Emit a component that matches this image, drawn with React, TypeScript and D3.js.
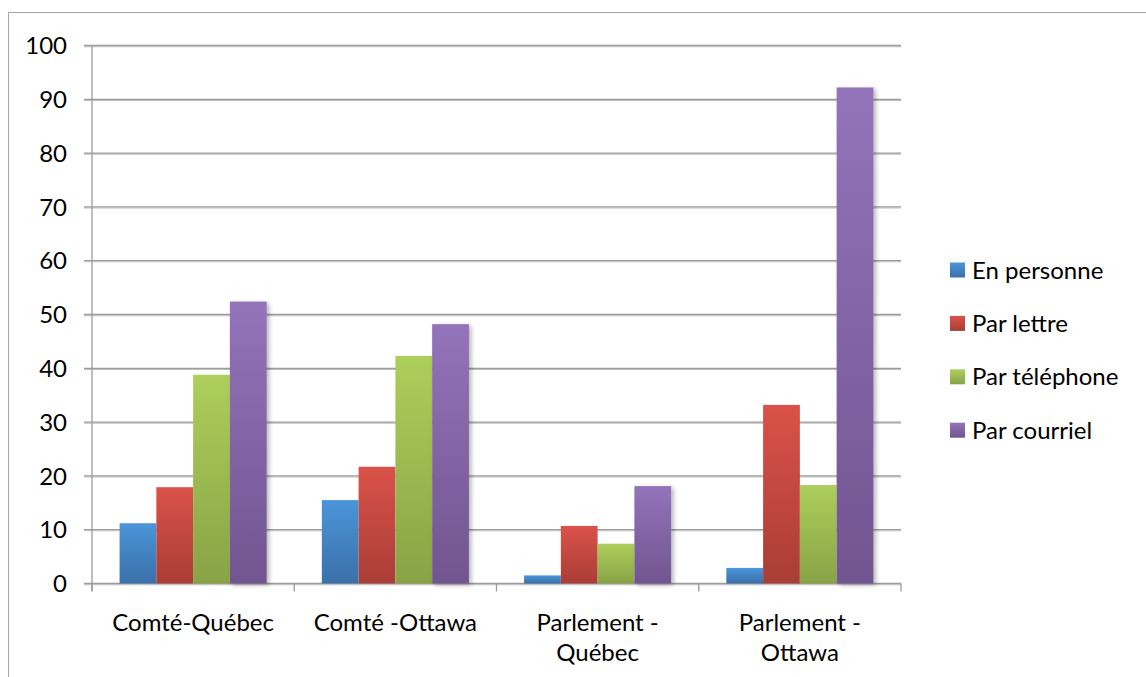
import React from "react";
import * as d3 from "d3";

const categories: string[][] = [
  ["Comté-Québec"],
  ["Comté -Ottawa"],
  ["Parlement -", "Québec"],
  ["Parlement -", "Ottawa"],
];
const seriesNames = ["En personne", "Par lettre", "Par téléphone", "Par courriel"];
const enPersonne = [11.2, 15.5, 1.5, 2.9];
const parLettre = [17.9, 21.7, 10.7, 33.2];
const parTelephone = [38.8, 42.3, 7.4, 18.3];
const parCourriel = [52.4, 48.2, 18.1, 92.2];
const yTicks = [0, 10, 20, 30, 40, 50, 60, 70, 80, 90, 100];

const seriesValues = [enPersonne, parLettre, parTelephone, parCourriel];
const colorsTop = ["#4b95d9", "#da5249", "#adcf5b", "#9373ba"];
const colorsBottom = ["#3a70a9", "#a93d36", "#88a345", "#715590"];

const W = 1146;
const H = 677;
const plotLeft = 92;
const plotRight = 901;
const plotTop = 45.5;
const plotBottom = 583.5;
const FONT = "Lato, 'Open Sans', sans-serif";
const FS = 24;

export default function App() {
  const y = d3.scaleLinear().domain([0, 100]).range([plotBottom, plotTop]);
  const x0 = d3
    .scaleBand<number>()
    .domain(categories.map((_, i) => i))
    .range([plotLeft, plotRight])
    .paddingInner(0)
    .paddingOuter(0);
  const groupW = x0.bandwidth();
  const barW = groupW / (4 + 1.5);
  const x1 = d3
    .scaleBand<number>()
    .domain(seriesNames.map((_, i) => i))
    .range([barW * 0.75, groupW - barW * 0.75]);

  const boundaries = d3.range(categories.length + 1).map((i) => plotLeft + i * groupW);

  return (
    <div style={{ position: "absolute", left: 0, top: 0 }}>
      <svg width={W} height={H} style={{ display: "block", background: "#fff" }}>
        <defs>
          {seriesNames.map((_, i) => (
            <linearGradient key={i} id={`g${i}`} x1="0" y1="0" x2="0" y2="1">
              <stop offset="0%" stopColor={colorsTop[i]} />
              <stop offset="100%" stopColor={colorsBottom[i]} />
            </linearGradient>
          ))}
          <filter id="shadow" x="-20%" y="-5%" width="150%" height="115%">
            <feDropShadow dx="2.5" dy="1.5" stdDeviation="2" floodColor="#000" floodOpacity="0.28" />
          </filter>
          <filter id="lshadow" x="-20%" y="-50%" width="150%" height="200%">
            <feDropShadow dx="0" dy="1" stdDeviation="0.6" floodColor="#000" floodOpacity="0.25" />
          </filter>
        </defs>

        {/* outer frame */}
        <path d={`M8.5,${H + 5} L8.5,12.5 L${W + 5},12.5`} fill="none" stroke="#a5a5a5" strokeWidth={1} />

        {/* gridlines */}
        <g filter="url(#lshadow)">
          {yTicks.map((t) => (
            <line
              key={t}
              x1={84}
              x2={plotRight}
              y1={y(t)}
              y2={y(t)}
              stroke="#9c9c9c"
              strokeWidth={1.3}
            />
          ))}
        </g>

        {/* y-axis line */}
        <line x1={plotLeft} x2={plotLeft} y1={plotTop} y2={plotBottom + 8} stroke="#9c9c9c" strokeWidth={1.3} />
        {/* x-axis ticks */}
        {boundaries.map((b, i) => (
          <line key={i} x1={b} x2={b} y1={plotBottom} y2={plotBottom + 8} stroke="#9c9c9c" strokeWidth={1.3} />
        ))}

        {/* bars */}
        {categories.map((_, ci) => (
          <g key={ci} transform={`translate(${x0(ci)},0)`}>
            {seriesValues.map((vals, si) => (
              <rect
                key={si}
                x={x1(si)}
                y={y(vals[ci])}
                width={x1.bandwidth()}
                height={plotBottom - y(vals[ci])}
                fill={`url(#g${si})`}
                filter={si === 3 ? "url(#shadow)" : undefined}
              />
            ))}
          </g>
        ))}

        {/* y tick labels */}
        {yTicks.map((t) => (
          <text
            key={t}
            x={67}
            y={y(t)}
            dy="0.36em"
            textAnchor="end"
            fontFamily={FONT}
            fontSize={FS}
            fill="#000"
          >
            {t}
          </text>
        ))}

        {/* category labels */}
        {categories.map((lines, ci) => (
          <text
            key={ci}
            x={(x0(ci) as number) + groupW / 2}
            textAnchor="middle"
            fontFamily={FONT}
            fontSize={FS}
            fill="#000"
          >
            {lines.map((l, li) => (
              <tspan key={li} x={(x0(ci) as number) + groupW / 2} y={622 + li * 30} dy="0.36em">
                {l}
              </tspan>
            ))}
          </text>
        ))}

        {/* legend */}
        {seriesNames.map((n, i) => {
          const cy = 270 + i * 53.4;
          return (
            <g key={n}>
              <rect x={950} y={cy - 7.5} width={15} height={15} fill={`url(#g${i})`} />
              <text x={972} y={cy} dy="0.36em" fontFamily={FONT} fontSize={FS} fill="#000">
                {n}
              </text>
            </g>
          );
        })}
      </svg>
    </div>
  );
}
